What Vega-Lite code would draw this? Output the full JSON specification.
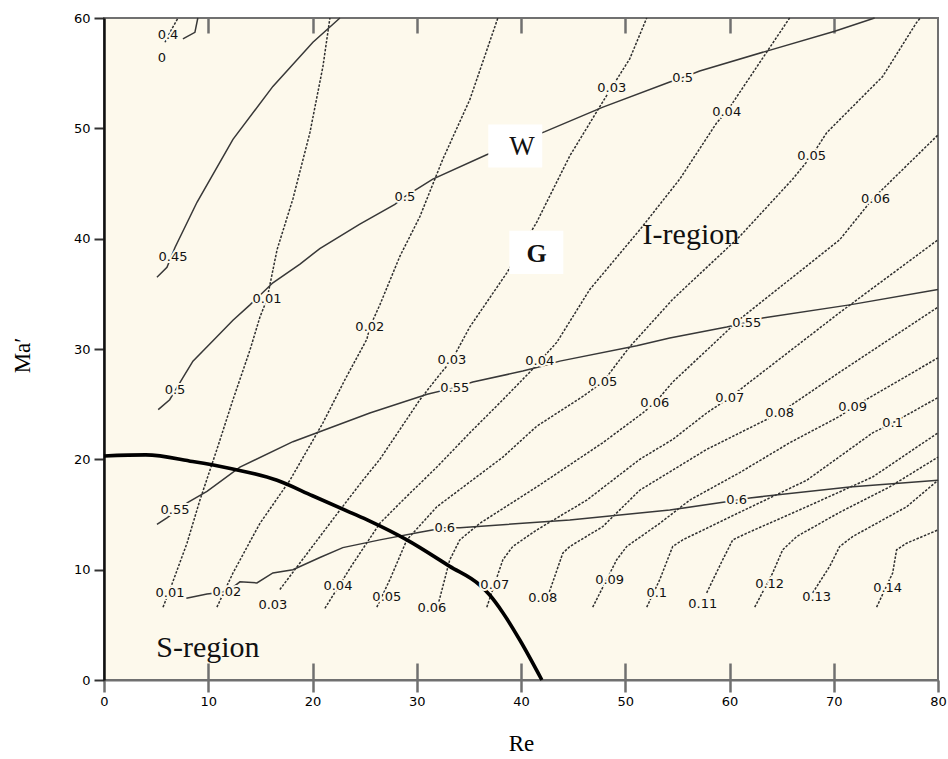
{
  "$schema": "https://vega.github.io/schema/vega-lite/v6.json",
  "width": 834,
  "height": 662,
  "autosize": {"type": "none"},
  "padding": {"left": 104, "top": 18, "right": 10, "bottom": 79},
  "background": "#ffffff",
  "config": {
    "view": {"fill": "#fdf9ec", "stroke": "#707070", "strokeWidth": 2},
    "font": "DejaVu Sans"
  },
  "resolve": {"axis": {"x": "independent", "y": "independent"}},
  "datasets": {
    "dotted": [
      {"c": "0", "x": 5.85, "y": 57.8}, {"c": "0", "x": 6.5, "y": 59.0}, {"c": "0", "x": 7.1, "y": 60},
      {"c": "0.01", "x": 5.66, "y": 6.6}, {"c": "0.01", "x": 6.33, "y": 8.2}, {"c": "0.01", "x": 7.96, "y": 12.4}, {"c": "0.01", "x": 9.2, "y": 16.3}, {"c": "0.01", "x": 10.83, "y": 20.9}, {"c": "0.01", "x": 12.37, "y": 25.4}, {"c": "0.01", "x": 14.0, "y": 29.9}, {"c": "0.01", "x": 14.96, "y": 32.9}, {"c": "0.01", "x": 15.63, "y": 34.5}, {"c": "0.01", "x": 16.6, "y": 39.0}, {"c": "0.01", "x": 18.12, "y": 43.6}, {"c": "0.01", "x": 19.75, "y": 49.6}, {"c": "0.01", "x": 21.0, "y": 55.6}, {"c": "0.01", "x": 21.67, "y": 60},
      {"c": "0.02", "x": 10.83, "y": 6.6}, {"c": "0.02", "x": 12.37, "y": 9.7}, {"c": "0.02", "x": 14.96, "y": 14.2}, {"c": "0.02", "x": 17.83, "y": 18.1}, {"c": "0.02", "x": 21.0, "y": 23.3}, {"c": "0.02", "x": 23.1, "y": 27.2}, {"c": "0.02", "x": 25.22, "y": 30.9}, {"c": "0.02", "x": 25.5, "y": 32.0}, {"c": "0.02", "x": 26.46, "y": 34.0}, {"c": "0.02", "x": 28.38, "y": 38.4}, {"c": "0.02", "x": 30.3, "y": 42.0}, {"c": "0.02", "x": 32.5, "y": 47.2}, {"c": "0.02", "x": 35.09, "y": 52.6}, {"c": "0.02", "x": 37.78, "y": 60},
      {"c": "0.03", "x": 16.87, "y": 8.2}, {"c": "0.03", "x": 19.75, "y": 11.8}, {"c": "0.03", "x": 22.63, "y": 15.4}, {"c": "0.03", "x": 24.83, "y": 18.1}, {"c": "0.03", "x": 26.46, "y": 20.0}, {"c": "0.03", "x": 30.3, "y": 25.4}, {"c": "0.03", "x": 32.21, "y": 27.7}, {"c": "0.03", "x": 33.37, "y": 29.0}, {"c": "0.03", "x": 35.09, "y": 32.0}, {"c": "0.03", "x": 38.64, "y": 36.9}, {"c": "0.03", "x": 41.51, "y": 41.5}, {"c": "0.03", "x": 44.68, "y": 47.5}, {"c": "0.03", "x": 47.84, "y": 52.4}, {"c": "0.03", "x": 48.7, "y": 53.7}, {"c": "0.03", "x": 50.43, "y": 56.3}, {"c": "0.03", "x": 52.06, "y": 60},
      {"c": "0.04", "x": 21.19, "y": 6.5}, {"c": "0.04", "x": 23.78, "y": 10.4}, {"c": "0.04", "x": 26.46, "y": 14.2}, {"c": "0.04", "x": 28.67, "y": 16.3}, {"c": "0.04", "x": 31.93, "y": 19.3}, {"c": "0.04", "x": 35.09, "y": 22.4}, {"c": "0.04", "x": 38.26, "y": 25.4}, {"c": "0.04", "x": 40.84, "y": 27.9}, {"c": "0.04", "x": 41.8, "y": 28.9}, {"c": "0.04", "x": 43.43, "y": 30.6}, {"c": "0.04", "x": 46.6, "y": 35.4}, {"c": "0.04", "x": 51.39, "y": 40.8}, {"c": "0.04", "x": 55.23, "y": 45.4}, {"c": "0.04", "x": 58.77, "y": 50.5}, {"c": "0.04", "x": 59.73, "y": 51.5}, {"c": "0.04", "x": 65.48, "y": 59.6}, {"c": "0.04", "x": 65.77, "y": 60},
      {"c": "0.05", "x": 26.17, "y": 6.6}, {"c": "0.05", "x": 27.42, "y": 9.1}, {"c": "0.05", "x": 29.05, "y": 12.7}, {"c": "0.05", "x": 31.93, "y": 15.7}, {"c": "0.05", "x": 38.26, "y": 20.2}, {"c": "0.05", "x": 41.51, "y": 23.0}, {"c": "0.05", "x": 45.93, "y": 25.7}, {"c": "0.05", "x": 47.84, "y": 27.0}, {"c": "0.05", "x": 50.43, "y": 30.2}, {"c": "0.05", "x": 54.55, "y": 34.5}, {"c": "0.05", "x": 60.98, "y": 40.2}, {"c": "0.05", "x": 66.06, "y": 45.4}, {"c": "0.05", "x": 67.88, "y": 47.5}, {"c": "0.05", "x": 69.32, "y": 49.6}, {"c": "0.05", "x": 74.69, "y": 54.7}, {"c": "0.05", "x": 77.95, "y": 59.6}, {"c": "0.05", "x": 78.3, "y": 60},
      {"c": "0.06", "x": 31.93, "y": 6.4}, {"c": "0.06", "x": 33.17, "y": 10.9}, {"c": "0.06", "x": 34.13, "y": 12.7}, {"c": "0.06", "x": 36.05, "y": 14.2}, {"c": "0.06", "x": 41.51, "y": 17.5}, {"c": "0.06", "x": 47.84, "y": 21.5}, {"c": "0.06", "x": 51.68, "y": 24.2}, {"c": "0.06", "x": 52.83, "y": 25.1}, {"c": "0.06", "x": 54.55, "y": 27.0}, {"c": "0.06", "x": 60.98, "y": 32.7}, {"c": "0.06", "x": 70.57, "y": 39.9}, {"c": "0.06", "x": 73.73, "y": 43.6}, {"c": "0.06", "x": 80, "y": 49.4},
      {"c": "0.07", "x": 36.72, "y": 6.6}, {"c": "0.07", "x": 38.26, "y": 10.9}, {"c": "0.07", "x": 39.21, "y": 12.1}, {"c": "0.07", "x": 41.51, "y": 13.6}, {"c": "0.07", "x": 46.31, "y": 16.3}, {"c": "0.07", "x": 51.39, "y": 20.0}, {"c": "0.07", "x": 54.55, "y": 21.8}, {"c": "0.07", "x": 57.81, "y": 24.2}, {"c": "0.07", "x": 60.02, "y": 25.6}, {"c": "0.07", "x": 70.57, "y": 33.3}, {"c": "0.07", "x": 80, "y": 39.9},
      {"c": "0.08", "x": 42.47, "y": 7.3}, {"c": "0.08", "x": 44.01, "y": 11.5}, {"c": "0.08", "x": 44.68, "y": 12.1}, {"c": "0.08", "x": 47.84, "y": 13.9}, {"c": "0.08", "x": 51.39, "y": 17.2}, {"c": "0.08", "x": 57.81, "y": 20.9}, {"c": "0.08", "x": 62.9, "y": 23.3}, {"c": "0.08", "x": 64.81, "y": 24.2}, {"c": "0.08", "x": 70.57, "y": 27.9}, {"c": "0.08", "x": 80, "y": 33.8},
      {"c": "0.09", "x": 46.88, "y": 6.6}, {"c": "0.09", "x": 49.18, "y": 10.9}, {"c": "0.09", "x": 50.14, "y": 12.1}, {"c": "0.09", "x": 53.31, "y": 14.2}, {"c": "0.09", "x": 56.18, "y": 16.3}, {"c": "0.09", "x": 60.98, "y": 18.8}, {"c": "0.09", "x": 65.77, "y": 21.5}, {"c": "0.09", "x": 70.57, "y": 23.9}, {"c": "0.09", "x": 71.81, "y": 24.7}, {"c": "0.09", "x": 80, "y": 29.2},
      {"c": "0.1", "x": 52.06, "y": 6.6}, {"c": "0.1", "x": 53.31, "y": 9.1}, {"c": "0.1", "x": 54.55, "y": 12.1}, {"c": "0.1", "x": 55.51, "y": 12.7}, {"c": "0.1", "x": 60.98, "y": 15.2}, {"c": "0.1", "x": 67.4, "y": 18.1}, {"c": "0.1", "x": 73.73, "y": 22.4}, {"c": "0.1", "x": 75.65, "y": 23.3}, {"c": "0.1", "x": 80, "y": 25.6},
      {"c": "0.11", "x": 57.81, "y": 7.9}, {"c": "0.11", "x": 59.35, "y": 10.9}, {"c": "0.11", "x": 60.31, "y": 12.7}, {"c": "0.11", "x": 61.65, "y": 13.3}, {"c": "0.11", "x": 67.4, "y": 15.7}, {"c": "0.11", "x": 73.73, "y": 18.4}, {"c": "0.11", "x": 80, "y": 22.4},
      {"c": "0.12", "x": 62.42, "y": 6.6}, {"c": "0.12", "x": 64.14, "y": 9.7}, {"c": "0.12", "x": 65.1, "y": 11.8}, {"c": "0.12", "x": 66.44, "y": 13.0}, {"c": "0.12", "x": 70.57, "y": 15.2}, {"c": "0.12", "x": 75.36, "y": 17.5}, {"c": "0.12", "x": 80, "y": 20.2},
      {"c": "0.13", "x": 67.98, "y": 7.9}, {"c": "0.13", "x": 69.61, "y": 10.3}, {"c": "0.13", "x": 70.57, "y": 12.1}, {"c": "0.13", "x": 71.81, "y": 13.0}, {"c": "0.13", "x": 76.99, "y": 15.7}, {"c": "0.13", "x": 80, "y": 18.1},
      {"c": "0.14", "x": 74.11, "y": 6.6}, {"c": "0.14", "x": 75.65, "y": 9.7}, {"c": "0.14", "x": 76.03, "y": 11.8}, {"c": "0.14", "x": 76.99, "y": 12.4}, {"c": "0.14", "x": 80, "y": 13.6}
    ],
    "solid": [
      {"c": "0.4", "x": 7.57, "y": 58.1}, {"c": "0.4", "x": 8.72, "y": 58.7}, {"c": "0.4", "x": 9.0, "y": 60},
      {"c": "0.45", "x": 5.08, "y": 36.5}, {"c": "0.45", "x": 6.04, "y": 37.4}, {"c": "0.45", "x": 6.81, "y": 39.2}, {"c": "0.45", "x": 8.92, "y": 43.3}, {"c": "0.45", "x": 12.37, "y": 49.0}, {"c": "0.45", "x": 16.2, "y": 53.8}, {"c": "0.45", "x": 20.04, "y": 57.8}, {"c": "0.45", "x": 22.63, "y": 60},
      {"c": "0.5", "x": 5.2, "y": 24.5}, {"c": "0.5", "x": 6.3, "y": 25.4}, {"c": "0.5", "x": 7.57, "y": 27.4}, {"c": "0.5", "x": 8.53, "y": 28.9}, {"c": "0.5", "x": 10.5, "y": 30.8}, {"c": "0.5", "x": 12.37, "y": 32.6}, {"c": "0.5", "x": 14.0, "y": 34.0}, {"c": "0.5", "x": 16.2, "y": 36.0}, {"c": "0.5", "x": 18.8, "y": 37.7}, {"c": "0.5", "x": 20.7, "y": 39.1}, {"c": "0.5", "x": 24.5, "y": 41.3}, {"c": "0.5", "x": 27.9, "y": 43.1}, {"c": "0.5", "x": 28.86, "y": 43.8}, {"c": "0.5", "x": 31.54, "y": 45.4}, {"c": "0.5", "x": 36.7, "y": 47.6}, {"c": "0.5", "x": 42.3, "y": 49.7}, {"c": "0.5", "x": 47.8, "y": 51.9}, {"c": "0.5", "x": 54.27, "y": 54.2}, {"c": "0.5", "x": 55.51, "y": 54.6}, {"c": "0.5", "x": 57.14, "y": 55.2}, {"c": "0.5", "x": 63.57, "y": 57.0}, {"c": "0.5", "x": 70.09, "y": 58.8}, {"c": "0.5", "x": 73.92, "y": 60},
      {"c": "0.55", "x": 5.08, "y": 14.1}, {"c": "0.55", "x": 6.04, "y": 14.7}, {"c": "0.55", "x": 8.05, "y": 16.1}, {"c": "0.55", "x": 9.88, "y": 17.1}, {"c": "0.55", "x": 13.04, "y": 19.3}, {"c": "0.55", "x": 18.12, "y": 21.6}, {"c": "0.55", "x": 25.5, "y": 24.2}, {"c": "0.55", "x": 31.0, "y": 25.9}, {"c": "0.55", "x": 33.65, "y": 26.5}, {"c": "0.55", "x": 35.38, "y": 27.0}, {"c": "0.55", "x": 40.17, "y": 28.0}, {"c": "0.55", "x": 41.8, "y": 28.4}, {"c": "0.55", "x": 43.72, "y": 28.9}, {"c": "0.55", "x": 51.1, "y": 30.3}, {"c": "0.55", "x": 54.27, "y": 31.0}, {"c": "0.55", "x": 59.73, "y": 32.0}, {"c": "0.55", "x": 61.65, "y": 32.4}, {"c": "0.55", "x": 63.18, "y": 32.8}, {"c": "0.55", "x": 71.52, "y": 34.0}, {"c": "0.55", "x": 80, "y": 35.4},
      {"c": "0.6", "x": 7.9, "y": 7.4}, {"c": "0.6", "x": 9.88, "y": 7.8}, {"c": "0.6", "x": 11.79, "y": 8.0}, {"c": "0.6", "x": 13.04, "y": 8.9}, {"c": "0.6", "x": 14.67, "y": 8.8}, {"c": "0.6", "x": 16.2, "y": 9.7}, {"c": "0.6", "x": 18.12, "y": 10.0}, {"c": "0.6", "x": 20.71, "y": 11.1}, {"c": "0.6", "x": 22.91, "y": 12.0}, {"c": "0.6", "x": 26.46, "y": 12.7}, {"c": "0.6", "x": 30.3, "y": 13.4}, {"c": "0.6", "x": 32.69, "y": 13.8}, {"c": "0.6", "x": 34.13, "y": 13.8}, {"c": "0.6", "x": 44.68, "y": 14.5}, {"c": "0.6", "x": 54.27, "y": 15.4}, {"c": "0.6", "x": 60.69, "y": 16.3}, {"c": "0.6", "x": 61.94, "y": 16.5}, {"c": "0.6", "x": 71.52, "y": 17.5}, {"c": "0.6", "x": 80, "y": 18.1}
    ],
    "boundary": [
      {"x": 0, "y": 20.3}, {"x": 4, "y": 20.4}, {"x": 8.5, "y": 19.8}, {"x": 12, "y": 19.2}, {"x": 16.6, "y": 18.1}, {"x": 20, "y": 16.7}, {"x": 23.6, "y": 15.2}, {"x": 25.5, "y": 14.4}, {"x": 29.05, "y": 12.7}, {"x": 33.17, "y": 10.3}, {"x": 36.05, "y": 8.6}, {"x": 37.0, "y": 7.7}, {"x": 38.26, "y": 6.1}, {"x": 39.9, "y": 3.6}, {"x": 42.0, "y": 0}
    ],
    "labels": [
      {"t": "0", "x": 5.56, "y": 56.4}, {"t": "0.4", "x": 6.14, "y": 58.5}, {"t": "0.45", "x": 6.62, "y": 38.3},
      {"t": "0.5", "x": 6.81, "y": 26.3}, {"t": "0.5", "x": 28.86, "y": 43.8}, {"t": "0.5", "x": 55.51, "y": 54.6},
      {"t": "0.55", "x": 6.81, "y": 15.4}, {"t": "0.55", "x": 33.65, "y": 26.5}, {"t": "0.55", "x": 61.65, "y": 32.4},
      {"t": "0.6", "x": 32.69, "y": 13.8}, {"t": "0.6", "x": 60.69, "y": 16.3},
      {"t": "0.01", "x": 6.33, "y": 7.9}, {"t": "0.02", "x": 11.79, "y": 8.0}, {"t": "0.03", "x": 16.2, "y": 6.8}, {"t": "0.04", "x": 22.44, "y": 8.5}, {"t": "0.05", "x": 27.13, "y": 7.5}, {"t": "0.06", "x": 31.45, "y": 6.5}, {"t": "0.07", "x": 37.49, "y": 8.6}, {"t": "0.08", "x": 42.09, "y": 7.4}, {"t": "0.09", "x": 48.5, "y": 9.1}, {"t": "0.1", "x": 53.02, "y": 7.9}, {"t": "0.11", "x": 57.43, "y": 6.9}, {"t": "0.12", "x": 63.85, "y": 8.7}, {"t": "0.13", "x": 68.36, "y": 7.5}, {"t": "0.14", "x": 75.17, "y": 8.3},
      {"t": "0.01", "x": 15.63, "y": 34.5}, {"t": "0.02", "x": 25.5, "y": 32.0}, {"t": "0.03", "x": 33.37, "y": 29.0}, {"t": "0.04", "x": 41.8, "y": 28.9}, {"t": "0.05", "x": 47.84, "y": 27.0}, {"t": "0.06", "x": 52.83, "y": 25.1}, {"t": "0.07", "x": 60.02, "y": 25.6}, {"t": "0.08", "x": 64.81, "y": 24.2}, {"t": "0.09", "x": 71.81, "y": 24.7}, {"t": "0.1", "x": 75.65, "y": 23.3},
      {"t": "0.03", "x": 48.7, "y": 53.7}, {"t": "0.04", "x": 59.73, "y": 51.5}, {"t": "0.05", "x": 67.88, "y": 47.5}, {"t": "0.06", "x": 74.0, "y": 43.6}
    ],
    "regions": [
      {"t": "S-region", "x": 9.97, "y": 2.1},
      {"t": "I-region", "x": 56.3, "y": 39.5}
    ],
    "boxes": [
      {"t": "W", "x": 39.45, "y": 48.4, "ty": 47.6, "tx": 40.1},
      {"t": "G", "x": 41.47, "y": 38.75, "ty": 37.9, "tx": 41.5}
    ]
  },
  "layer": [
    {
      "data": {"name": "dotted"},
      "mark": {"type": "line", "stroke": "#2f2f2f", "strokeWidth": 1.5, "strokeDash": [2.5, 1.5]},
      "encoding": {
        "x": {"field": "x", "type": "quantitative", "scale": {"domain": [0, 80], "nice": false, "zero": false},
          "axis": {"orient": "bottom", "values": [0, 10, 20, 30, 40, 50, 60, 70, 80], "tickSize": 12, "tickWidth": 2.5, "tickColor": "#707070", "domainColor": "#707070", "domainWidth": 2, "grid": false, "labelFont": "DejaVu Sans", "labelFontSize": 13, "labelColor": "#000000", "labelPadding": 3, "labelFlush": false, "title": "Re", "titleFont": "Liberation Serif", "titleFontSize": 23, "titleFontWeight": "normal", "titleColor": "#000000", "titleY": 70, "titleBaseline": "alphabetic"}},
        "y": {"field": "y", "type": "quantitative", "scale": {"domain": [0, 60], "nice": false, "zero": false},
          "axis": {"orient": "left", "values": [0, 10, 20, 30, 40, 50, 60], "tickSize": 10, "tickWidth": 2, "tickColor": "#333333", "domainColor": "#111111", "domainWidth": 2.5, "grid": false, "labelFont": "DejaVu Sans", "labelFontSize": 13, "labelColor": "#000000", "labelPadding": 4, "labelFlush": false, "title": "Ma′", "titleFont": "Liberation Serif", "titleFontSize": 23, "titleFontWeight": "normal", "titleColor": "#000000", "titleX": -70, "titleY": 337, "titleAngle": -90, "titleAlign": "center", "titleBaseline": "bottom"}},
        "detail": {"field": "c", "type": "nominal"}
      }
    },
    {
      "data": {"name": "solid"},
      "mark": {"type": "line", "stroke": "#383838", "strokeWidth": 1.5},
      "encoding": {
        "x": {"field": "x", "type": "quantitative", "scale": {"domain": [0, 80], "nice": false, "zero": false},
          "axis": {"orient": "top", "values": [10, 20, 30, 40, 50, 60, 70], "tickSize": -15, "tickWidth": 2.5, "tickColor": "#707070", "domain": false, "labels": false, "grid": false, "title": null}},
        "y": {"field": "y", "type": "quantitative", "scale": {"domain": [0, 60], "nice": false, "zero": false}, "axis": null},
        "detail": {"field": "c", "type": "nominal"}
      }
    },
    {
      "data": {"name": "boundary"},
      "mark": {"type": "line", "stroke": "#000000", "strokeWidth": 3.6, "interpolate": "monotone"},
      "encoding": {
        "x": {"field": "x", "type": "quantitative", "scale": {"domain": [0, 80], "nice": false, "zero": false},
          "axis": {"orient": "bottom", "values": [10, 20, 30, 40, 50, 60, 70], "tickSize": -17, "tickWidth": 2.5, "tickColor": "#707070", "domain": false, "labels": false, "grid": false, "title": null}},
        "y": {"field": "y", "type": "quantitative", "scale": {"domain": [0, 60], "nice": false, "zero": false}, "axis": null}
      }
    },
    {
      "data": {"name": "boxes"},
      "mark": {"type": "point", "shape": "M-1,-0.8L1,-0.8L1,0.8L-1,0.8Z", "size": 2916, "filled": true, "fill": "#ffffff", "opacity": 1, "strokeWidth": 0},
      "encoding": {
        "x": {"field": "x", "type": "quantitative", "axis": null},
        "y": {"field": "y", "type": "quantitative", "axis": null}
      }
    },
    {
      "data": {"name": "labels"},
      "mark": {"type": "text", "font": "DejaVu Sans", "fontSize": 13, "align": "center", "baseline": "middle", "fill": "#fdf9ec", "stroke": "#fdf9ec", "strokeWidth": 4, "strokeJoin": "round"},
      "encoding": {
        "x": {"field": "x", "type": "quantitative", "axis": null},
        "y": {"field": "y", "type": "quantitative", "axis": null},
        "text": {"field": "t"}
      }
    },
    {
      "data": {"name": "labels"},
      "mark": {"type": "text", "font": "DejaVu Sans", "fontSize": 13, "align": "center", "baseline": "middle", "fill": "#111111"},
      "encoding": {
        "x": {"field": "x", "type": "quantitative", "axis": null},
        "y": {"field": "y", "type": "quantitative", "axis": null},
        "text": {"field": "t"}
      }
    },
    {
      "data": {"name": "regions"},
      "mark": {"type": "text", "font": "Liberation Serif", "fontSize": 30, "align": "center", "baseline": "alphabetic", "fill": "#111111"},
      "encoding": {
        "x": {"field": "x", "type": "quantitative", "axis": null},
        "y": {"field": "y", "type": "quantitative", "axis": null},
        "text": {"field": "t"}
      }
    },
    {
      "data": {"name": "boxes"},
      "transform": [{"filter": "datum.t == 'W'"}],
      "mark": {"type": "text", "font": "Liberation Serif", "fontSize": 27, "align": "center", "baseline": "alphabetic", "fill": "#111111"},
      "encoding": {
        "x": {"field": "tx", "type": "quantitative", "axis": null},
        "y": {"field": "ty", "type": "quantitative", "axis": null},
        "text": {"field": "t"}
      }
    },
    {
      "data": {"name": "boxes"},
      "transform": [{"filter": "datum.t == 'G'"}],
      "mark": {"type": "text", "font": "Liberation Serif", "fontSize": 26, "fontWeight": "bold", "align": "center", "baseline": "alphabetic", "fill": "#111111"},
      "encoding": {
        "x": {"field": "tx", "type": "quantitative", "axis": null},
        "y": {"field": "ty", "type": "quantitative", "axis": null},
        "text": {"field": "t"}
      }
    }
  ]
}
